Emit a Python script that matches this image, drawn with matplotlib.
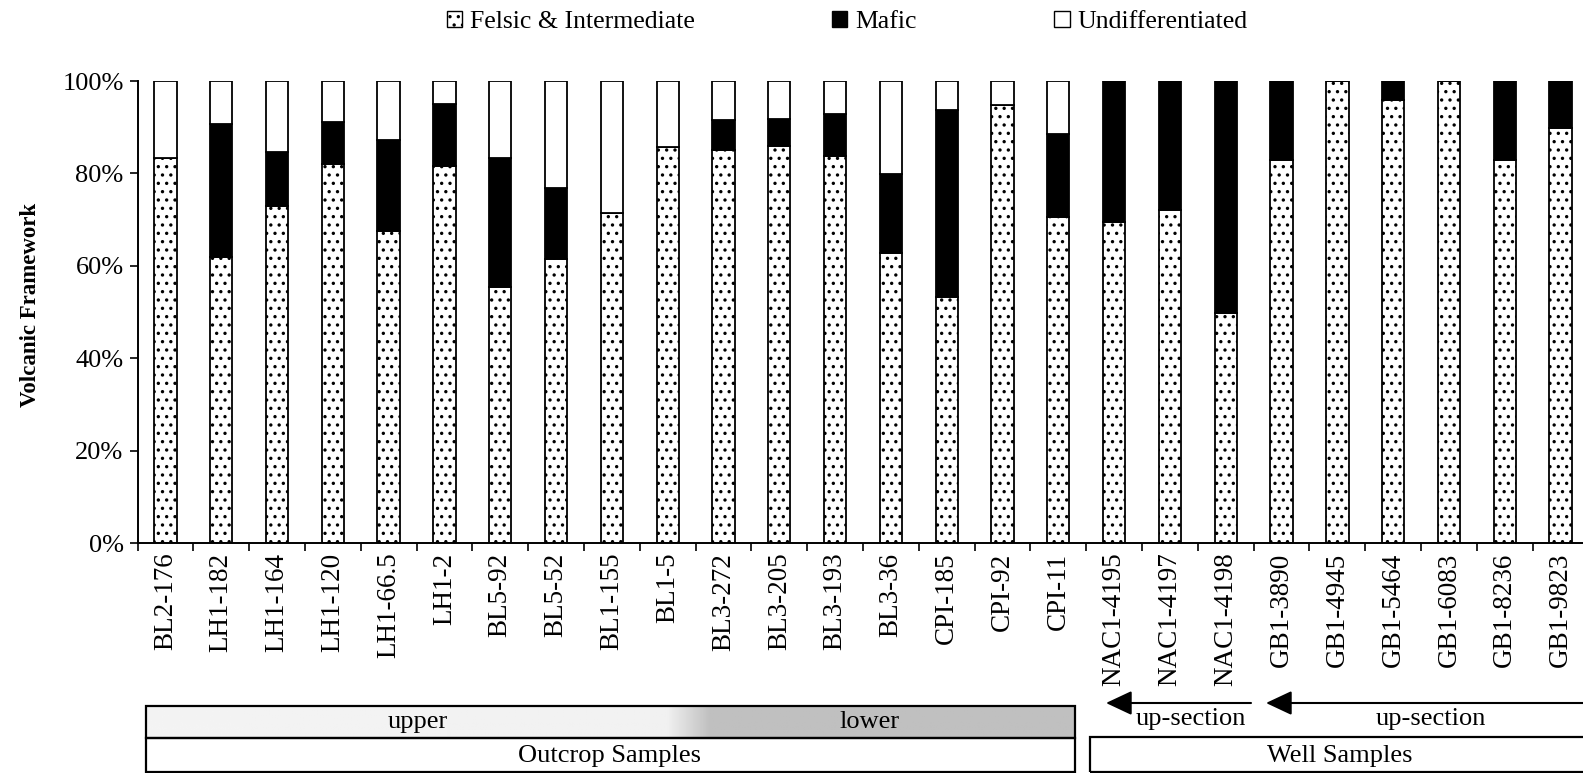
import numpy as np
import matplotlib
matplotlib.use("Agg")
import matplotlib.pyplot as plt
from matplotlib.patches import Patch, Rectangle, FancyArrowPatch
from matplotlib.ticker import FuncFormatter

# volcanic framework composition per sample (% of grains)
samples = ['BL2-176', 'LH1-182', 'LH1-164', 'LH1-120', 'LH1-66.5', 'LH1-2',
           'BL5-92', 'BL5-52', 'BL1-155', 'BL1-5', 'BL3-272', 'BL3-205',
           'BL3-193', 'BL3-36', 'CPI-185', 'CPI-92', 'CPI-11',
           'NAC1-4195', 'NAC1-4197', 'NAC1-4198',
           'GB1-3890', 'GB1-4945', 'GB1-5464', 'GB1-6083', 'GB1-8236', 'GB1-9823']
felsic = [83.3, 61.8, 73.0, 82.1, 67.5, 81.7, 55.4, 61.4, 71.5, 85.8, 85.0, 86.0,
          83.8, 62.8, 53.2, 94.9, 70.6, 69.5, 72.1, 49.7, 82.9, 100.0, 95.8, 100.0,
          82.9, 89.8]
mafic = [0.0, 29.0, 11.6, 9.0, 19.7, 13.3, 27.9, 15.4, 0.0, 0.0, 6.5, 5.8,
         9.0, 17.1, 40.5, 0.0, 17.9, 30.5, 27.9, 50.3, 17.1, 0.0, 4.2, 0.0,
         17.1, 10.2]
undiff = [16.7, 9.2, 15.4, 8.9, 12.8, 5.0, 16.7, 23.2, 28.5, 14.2, 8.5, 8.2,
          7.2, 20.1, 6.3, 5.1, 11.5, 0.0, 0.0, 0.0, 0.0, 0.0, 0.0, 0.0, 0.0, 0.0]
series_names = ['Felsic & Intermediate', 'Mafic', 'Undifferentiated']
y_ticks = [0, 20, 40, 60, 80, 100]

W, H = 1583, 773
plt.rcParams['font.family'] = ['Liberation Serif', 'DejaVu Serif']
plt.rcParams['font.size'] = 18
plt.rcParams['hatch.color'] = 'black'
plt.rcParams['hatch.linewidth'] = 1.2


def fx(px):
    return px / W


def fy(py):
    return 1 - py / H


fig = plt.figure(figsize=(W / 100, H / 100), dpi=100)
ax = fig.add_axes([fx(137.5), fy(543), fx(1588.5) - fx(137.5), fy(81) - fy(543)])

x = np.arange(len(samples))
bw = 0.4
f = np.array(felsic)
m = np.array(mafic)
u = np.array(undiff)
ax.bar(x, f, bw, color='white', edgecolor='black', hatch='..', linewidth=1.3, zorder=2)
ax.bar(x, m, bw, bottom=f, color='black', edgecolor='black', linewidth=1.3, zorder=2)
ax.bar(x, u, bw, bottom=f + m, color='white', edgecolor='black', linewidth=1.3, zorder=2)

ax.set_xlim(-0.5, len(samples) - 0.5)
ax.set_ylim(0, 100)
ax.set_yticks(y_ticks)
ax.yaxis.set_major_formatter(FuncFormatter(lambda v, p: f'{v:.0f}%'))
ax.set_xticks(x)
ax.set_xticklabels(samples, rotation=90, fontsize=19.5)
ax.set_xticks(np.arange(len(samples) + 1) - 0.5, minor=True)
ax.tick_params(axis='x', which='major', length=0, pad=7)
ax.tick_params(axis='x', which='minor', length=6, width=1.2, direction='out')
ax.tick_params(axis='y', length=6, width=1.2, direction='out', pad=4, labelsize=19)
for side in ['top', 'right']:
    ax.spines[side].set_visible(False)
for side in ['left', 'bottom']:
    ax.spines[side].set_linewidth(1.4)

fig.text(fx(30), fy(305), 'Volcanic Framework', rotation=90, ha='center',
         va='center', fontsize=16.5, fontweight='bold')

# legend across the top
handles = [Patch(facecolor='white', edgecolor='black', hatch='..', linewidth=1.0),
           Patch(facecolor='black', edgecolor='black', linewidth=1.0),
           Patch(facecolor='white', edgecolor='black', linewidth=1.0)]
fig.legend(handles, series_names, loc='center', bbox_to_anchor=(fx(847), fy(22)),
           ncol=3, frameon=False, fontsize=18.5, handlelength=0.6, handleheight=0.6,
           handletextpad=0.3, columnspacing=5.35, borderpad=0)

# stratigraphic position band (upper -> lower) with a soft transition
band = fig.add_axes([fx(146), fy(738), fx(1075) - fx(146), fy(706) - fy(738)])
xs = np.linspace(146, 1075, 600)
shade = np.interp(xs, [146, 667, 710, 1075], [0.955, 0.945, 0.753, 0.753])
band.imshow(shade[None, :], cmap='gray', vmin=0, vmax=1, aspect='auto',
            extent=[146, 1075, 0, 1])
band.set_axis_off()

boxes = [(146, 706, 1075, 738), (146, 738, 1075, 772), (1090, 737, 1600, 772)]
for x0, y0, x1, y1 in boxes:
    fig.add_artist(Rectangle((fx(x0), fy(y1)), fx(x1) - fx(x0), fy(y0) - fy(y1),
                             transform=fig.transFigure, fill=False,
                             edgecolor='black', linewidth=1.6, zorder=5))

fig.text(fx(418), fy(722), 'upper', ha='center', va='center', fontsize=19)
fig.text(fx(870), fy(722), 'lower', ha='center', va='center', fontsize=19)
fig.text(fx(610), fy(756), 'Outcrop Samples', ha='center', va='center', fontsize=19)
fig.text(fx(1340), fy(756), 'Well Samples', ha='center', va='center', fontsize=19)

# up-section arrows for the two wells
for start, tip, label_x in [(1251, 1106, 1191), (1600, 1266, 1431)]:
    fig.add_artist(FancyArrowPatch((fx(start), fy(703)), (fx(tip), fy(703)),
                                   transform=fig.transFigure,
                                   arrowstyle='-|>,head_length=1.6,head_width=0.75',
                                   mutation_scale=10, shrinkA=0, shrinkB=0,
                                   color='black', linewidth=1.5))
    fig.text(fx(label_x), fy(719), 'up-section', ha='center', va='center', fontsize=19)

fig.savefig('out.png', dpi=100)
